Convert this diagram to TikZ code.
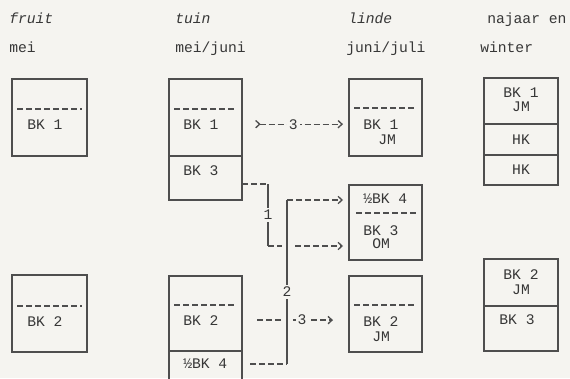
\documentclass[tikz,border=0pt]{standalone}
\usepackage{fontspec}
\setmonofont{Liberation Mono}
\usepackage{tikz}
\usetikzlibrary{arrows.meta,calc}
\definecolor{paper}{RGB}{245,244,240}
\definecolor{ink}{RGB}{78,78,78}
\definecolor{type}{RGB}{55,55,55}

\begin{document}
\begin{tikzpicture}[x=0.75pt, y=-0.75pt, >={Straight Barb[length=3pt,width=5.5pt]},
        cell/.style={draw=ink, line width=1.1pt, anchor=north west, inner sep=0pt, outer sep=0pt},
        txt/.style={anchor=base west, inner sep=0pt, text=type, font=\ttfamily\fontsize{11}{13}\selectfont},
        ctxt/.style={txt, anchor=base},
        hdr/.style={txt, font=\ttfamily\itshape\fontsize{11}{13}\selectfont},
        dline/.style={draw=ink, line width=1pt, dash pattern=on 4.5pt off 2.25pt},
        sline/.style={draw=ink, line width=1pt},
        gap/.style={preaction={draw=paper, line width=7.5pt}},
        lbl/.style={txt, anchor=center, fill=paper, inner sep=1.5pt}]
        \fill[paper] (0,0) rectangle (570,378);
        \useasboundingbox (0,0) rectangle (570,378);
        \clip (0,0) rectangle (570,378);

        % column heads
        \node[hdr] (hfruit) at (9,24) {fruit};
        \node[txt] (hmei) at (9,53) {mei};
        \node[hdr] (htuin) at (175,24) {tuin};
        \node[txt] (hmj) at (175,53) {mei/juni};
        \node[hdr] (hlinde) at (348,24) {linde};
        \node[txt] (hjj) at (346,53) {juni/juli};
        \node[txt] (hnaj) at (487,24) {najaar en};
        \node[txt] (hwin) at (480,53) {winter};

        % fruit (mei)
        \node[cell, minimum width=56.25pt, minimum height=57.75pt] (f1) at (12,79) {};
        \node[cell, minimum width=56.25pt, minimum height=57.75pt] (f2) at (12,275) {};
        \draw[dline] (17,109) -- (82,109);
        \draw[dline] (17,306) -- (82,306);
        \node[txt] (fa) at (27,129) {BK 1};
        \node[txt] (fb) at (27,326) {BK 2};

        % tuin (mei/juni)
        \node[cell, minimum width=54.75pt, minimum height=57.75pt] (t1) at (169,79) {};
        \node[cell, minimum width=54.75pt, minimum height=33pt] (t2) at (169,156) {};
        \node[cell, minimum width=54.75pt, minimum height=56.25pt] (t3) at (169,276) {};
        \node[cell, minimum width=54.75pt, minimum height=30pt] (t4) at (169,351) {};
        \draw[dline] (174,109) -- (237,109);
        \draw[dline] (174,305) -- (237,305);
        \node[txt] (ta) at (183,129) {BK 1};
        \node[txt] (tb) at (183,175) {BK 3};
        \node[txt] (tc) at (183,325) {BK 2};
        \node[txt] (td) at (183,368) {½BK 4};

        % linde (juni/juli)
        \node[cell, minimum width=54.75pt, minimum height=57.75pt] (l1) at (349,79) {};
        \node[cell, minimum width=54.75pt, minimum height=56.25pt] (l2) at (349,185) {};
        \node[cell, minimum width=54.75pt, minimum height=57pt] (l3) at (349,276) {};
        \draw[dline] (354,108) -- (417,108);
        \draw[dline] (356,213) -- (416,213);
        \draw[dline] (354,305) -- (417,305);
        \node[txt] (la) at (363,129) {BK 1};
        \node[txt] (laj) at (378,144) {JM};
        \node[txt] (lb) at (363,203) {½BK 4};
        \node[txt] (lbb) at (363,235) {BK 3};
        \node[txt] (lbo) at (372,248) {OM};
        \node[txt] (lc) at (363,326) {BK 2};
        \node[txt] (lcj) at (372,341) {JM};

        % najaar en winter
        \node[cell, minimum width=55.5pt, minimum height=34.5pt] (w1) at (484,78) {};
        \node[cell, minimum width=55.5pt, minimum height=23.25pt] (w2) at (484,124) {};
        \node[cell, minimum width=55.5pt, minimum height=22.5pt] (w3) at (484,155) {};
        \node[cell, minimum width=55.5pt, minimum height=35.25pt] (w4) at (484,259) {};
        \node[cell, minimum width=55.5pt, minimum height=33.75pt] (w5) at (484,306) {};
        \node[ctxt] (wa) at (521,97) {BK 1};
        \node[ctxt] (waj) at (521,111) {JM};
        \node[ctxt] (wb) at (521,144) {HK};
        \node[ctxt] (wc) at (521,174) {HK};
        \node[ctxt] (wd) at (521,279) {BK 2};
        \node[ctxt] (wdj) at (521,294) {JM};
        \node[ctxt] (we) at (517,324) {BK 3};

        % arrow 3 (top)
        \draw[dline, >->, shorten <=9.75pt, shorten >=4.5pt] (t1.east |- ta) -- (l1.west |- ta) node[lbl, pos=.48] {3};

        % arrow 1
        \coordinate (k1a) at (268,184);
        \coordinate (k1b) at (268,246);
        \draw[dline] (t2.east |- k1a) -- (k1a);
        \draw[sline] (k1a) -- (k1b) node[lbl, midway] {1};
        \draw[dline, ->, shorten >=4.5pt] (k1b) -- (l2.west |- k1b);

        % arrow 3 (bottom)
        \draw[dline, ->, shorten <=11.25pt, shorten >=12pt] (t3.east |- tc) -- (l3.west |- tc) node[lbl, pos=.56] {3};

        % arrow 2
        \coordinate (k2a) at (287,364);
        \coordinate (k2b) at (287,200);
        \draw[sline, gap] (k2a) -- (k2b) node[lbl, pos=.44] {2};
        \draw[dline, shorten <=6pt] (t4.east |- k2a) -- (k2a);
        \draw[dline, ->, shorten >=4.5pt] (k2b) -- (l2.west |- k2b);
\end{tikzpicture}
\end{document}
